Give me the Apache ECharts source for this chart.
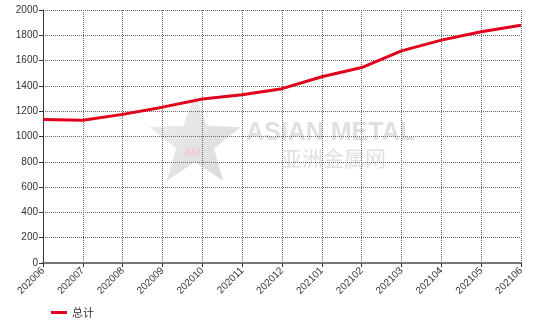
<!DOCTYPE html>
<html>
<head>
<meta charset="utf-8">
<script src="https://cdn.jsdelivr.net/npm/echarts@6/dist/echarts.min.js"></script>
<style>html,body{margin:0;padding:0;background:#fff}#c{width:554px;height:320px}</style>
</head>
<body>
<div id="c"></div>
<script>
var categories = ['202006','202007','202008','202009','202010','202011','202012','202101','202102','202103','202104','202105','202106'];
var totalValues = [1135, 1128, 1175, 1232, 1296, 1330, 1378, 1472, 1545, 1677, 1762, 1828, 1880];
var seriesName = '总计';
var yMin = 0, yMax = 2000, yInterval = 200;

var chart = echarts.init(document.getElementById('c'), null, {renderer: 'canvas'});

function star(cx, cy, R, r) {
  var pts = [];
  for (var i = 0; i < 10; i++) {
    var a = -Math.PI / 2 + i * Math.PI / 5;
    var rad = i % 2 === 0 ? R : r;
    pts.push([cx + rad * Math.cos(a), cy + rad * Math.sin(a)]);
  }
  return pts;
}

chart.setOption({
  animation: false,
  backgroundColor: '#fff',
  textStyle: {fontFamily: 'Liberation Sans, Arial, sans-serif'},
  graphic: [
    {type: 'polygon', z: -10, silent: true, shape: {points: star(195, 142, 48, 20)},
     style: {fill: {type: 'linear', x: 0, y: 0, x2: 1, y2: 1, colorStops: [{offset: 0, color: '#f0f0f0'}, {offset: 1, color: '#d8d8d8'}]}}},
    {type: 'text', z: -9, silent: true, left: 184, top: 147, style: {text: 'AM', fill: '#f5c4c4', font: '11px Liberation Sans'}},
    {type: 'text', z: -9, silent: true, left: 246, top: 121, style: {text: 'ASIAN METAL', fill: '#e0e0e0', font: 'bold 25px Liberation Sans'}},
    {type: 'text', z: -9, silent: true, left: 281, top: 148, style: {text: '亚洲金属网', fill: '#e0e0e0', font: '21px Noto Sans CJK SC'}}
  ],
  legend: {
    data: [seriesName],
    left: 46, top: 302,
    itemWidth: 16, itemHeight: 3, itemGap: 10,
    icon: 'rect',
    textStyle: {fontSize: 11, color: '#333', fontFamily: 'Noto Sans CJK SC'}
  },
  grid: {left: 43, right: 33, top: 10, bottom: 57, containLabel: false},
  xAxis: {
    type: 'category',
    data: categories,
    boundaryGap: false,
    axisLine: {lineStyle: {color: '#777', width: 2}},
    axisTick: {show: true, length: 4, lineStyle: {color: '#333'}, alignWithLabel: true},
    axisLabel: {rotate: 45, fontSize: 10, color: '#333', margin: 6, interval: 0},
    splitLine: {show: true, lineStyle: {type: 'dotted', color: '#666', width: 1}}
  },
  yAxis: {
    type: 'value',
    min: yMin, max: yMax, interval: yInterval,
    axisLine: {show: true, lineStyle: {color: '#333', width: 1}},
    axisTick: {show: true, length: 4, lineStyle: {color: '#333'}},
    axisLabel: {fontSize: 10, color: '#333', margin: 5, formatter: function (v) { return String(v); }},
    splitLine: {show: true, lineStyle: {type: 'dotted', color: '#666', width: 1}}
  },
  series: [{
    name: seriesName,
    type: 'line',
    data: totalValues,
    showSymbol: false,
    symbol: 'none',
    lineStyle: {color: '#e0001b', width: 3},
    itemStyle: {color: '#e0001b'}
  }]
});
</script>
</body>
</html>
